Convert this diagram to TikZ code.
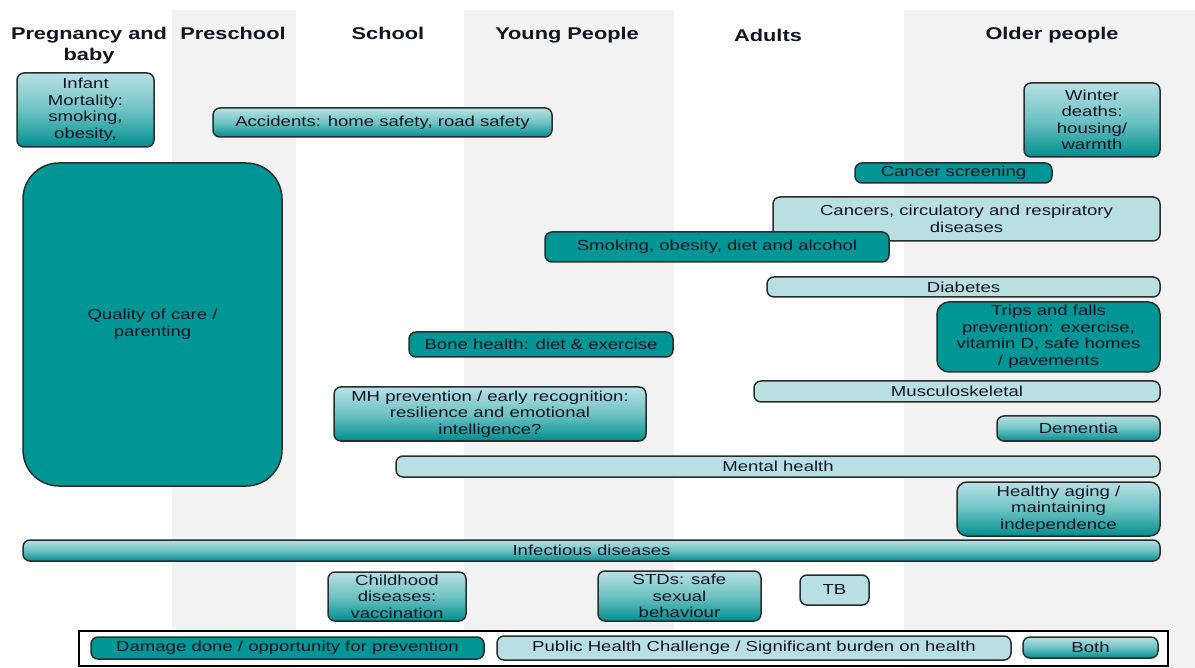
\documentclass[tikz,border=0pt]{standalone}
\usepackage{fontspec}
\setmainfont{Liberation Sans}[FakeStretch=1.28]
\definecolor{bandgray}{RGB}{242,242,242}
\definecolor{paleteal}{RGB}{184,224,227}
\definecolor{darkteal}{RGB}{0,150,150}
\definecolor{edgegray}{RGB}{40,45,45}
\definecolor{txt}{RGB}{20,20,35}
\tikzset{every picture/.style={line width=0.75pt}}
\tikzset{
  topic/.style={draw=edgegray, line width=1.5pt, rounded corners=7pt, anchor=north west,
    inner sep=1pt, outer sep=0pt, align=center, text=txt,
    font=\fontsize{14.5}{16.5}\selectfont},
  harm/.style={topic, fill=darkteal},
  burden/.style={topic, fill=paleteal},
  both/.style={topic, top color=paleteal, bottom color=darkteal!95!black, middle color=paleteal!60!darkteal},
  stage/.style={anchor=north, align=center, inner sep=0pt, text=txt,
    font=\bfseries\fontsize{17}{21}\selectfont},
}

\begin{document}
\begin{tikzpicture}[x=1pt,y=1pt,yscale=-1]
\useasboundingbox (0,0) rectangle (1195,668);

% Shaded age bands
\fill[bandgray] (172,10) rectangle (296,668);
\fill[bandgray] (464,10) rectangle (674,668);
\fill[bandgray] (904,10) rectangle (1195,668);

% Age headings
\node[stage] (pregnancy) at (89,27) {Pregnancy and\\baby};
\node[stage] (preschool) at (233,27) {Preschool};
\node[stage] (school) at (388,27) {School};
\node[stage] (young) at (567,27) {Young People};
\node[stage] (adults) at (768,29) {Adults};
\node[stage] (older) at (1052,27) {Older people};

% Boxes
\node[both, minimum width=137, minimum height=74] (infant) at (17,73) {Infant\\Mortality:\\smoking,\\obesity,};
\node[both, minimum width=339, minimum height=29] (accidents) at (213,108) {Accidents: home safety, road safety};
\node[both, minimum width=136, minimum height=74] (winter) at (1024,83) {Winter\\deaths:\\housing/\\warmth};
\node[harm, rounded corners=36pt, minimum width=259, minimum height=323] (quality) at (23,163) {Quality of care /\\parenting};
\node[harm, minimum width=197, minimum height=20] (screening) at (855,163) {Cancer screening};
\node[burden, minimum width=387, minimum height=44] (cancers) at (773,197) {Cancers, circulatory and respiratory\\diseases};
\node[harm, minimum width=344, minimum height=30] (smoking) at (545,232) {Smoking, obesity, diet and alcohol};
\node[burden, minimum width=393, minimum height=20] (diabetes) at (767,277) {Diabetes};
\node[harm, rounded corners=12pt, minimum width=223, minimum height=70] (falls) at (937,302) {Trips and falls\\prevention: exercise,\\vitamin D, safe homes\\/ pavements};
\node[harm, minimum width=264, minimum height=25] (bone) at (409,332) {Bone health: diet \& exercise};
\node[burden, minimum width=406, minimum height=21] (musculo) at (754,381) {Musculoskeletal};
\node[both, minimum width=312, minimum height=54] (mhprev) at (334,387) {MH prevention / early recognition:\\resilience and emotional\\intelligence?};
\node[both, minimum width=163, minimum height=25] (dementia) at (997,416) {Dementia};
\node[burden, minimum width=764, minimum height=21] (mental) at (396,456) {Mental health};
\node[both, rounded corners=10pt, minimum width=203, minimum height=54] (ageing) at (957,482) {Healthy aging /\\maintaining\\independence};
\node[both, minimum width=1137, minimum height=21] (infectious) at (23,540) {Infectious diseases};
\node[both, minimum width=138, minimum height=49] (childhood) at (328,572) {Childhood\\diseases:\\vaccination};
\node[both, minimum width=163, minimum height=50] (stds) at (598,571) {STDs: safe\\sexual\\behaviour};
\node[burden, minimum width=69, minimum height=30] (tb) at (800,575) {TB};

% Key
\node[draw=black, fill=white, line width=1.5pt, anchor=north west, inner sep=0pt, minimum width=1089, minimum height=35] (key) at (78,630) {};
\node[harm, minimum width=393, minimum height=22] (keyharm) at (91,637) {Damage done / opportunity for prevention};
\node[burden, minimum width=514, minimum height=24] (keyburden) at (497,636) {Public Health Challenge / Significant burden on health};
\node[both, minimum width=135, minimum height=21] (keyboth) at (1023,637) {Both};

\end{tikzpicture}
\end{document}
